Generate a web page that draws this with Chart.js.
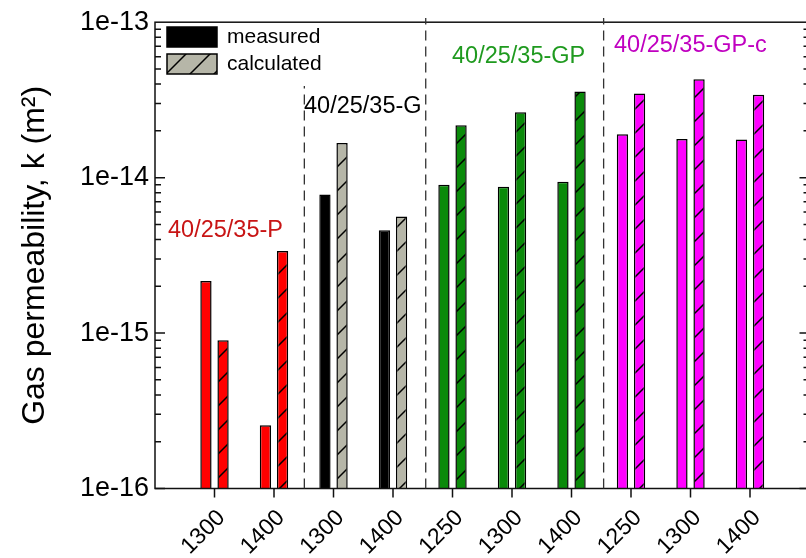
<!DOCTYPE html>
<html><head><meta charset="utf-8">
<script src="https://cdn.jsdelivr.net/npm/chart.js@4.4.1/dist/chart.umd.min.js"></script>
<style>
html,body{margin:0;padding:0;background:#fff;overflow:hidden;}
#wrap{position:relative;width:810px;height:558px;}
</style></head><body>
<div id="wrap"><canvas id="c"></canvas></div>
<script>
// ---- data ----
const categories = ['1300','1400','1300','1400','1250','1300','1400','1250','1300','1400'];
const groupIndex = [0,0,1,1,2,2,2,3,3,3];
const groupNames = ['40/25/35-P','40/25/35-G','40/25/35-GP','40/25/35-GP-c'];
const seriesNames = ['measured','calculated'];
const measured   = [2.16e-15, 2.55e-16, 7.78e-15, 4.58e-15, 9.0e-15, 8.75e-15, 9.4e-15, 1.9e-14, 1.77e-14, 1.76e-14];
const calculated = [9.0e-16, 3.37e-15, 1.67e-14, 5.63e-15, 2.17e-14, 2.63e-14, 3.58e-14, 3.48e-14, 4.3e-14, 3.42e-14];
const yTickValues = [1e-16, 1e-15, 1e-14, 1e-13];

// ---- styles ----
const groupBarColors  = ['#ff0000','#000000','#0a8a0a','#ff00ff'];
const groupCalcColors = ['#ff0000','#b6b6a8','#0a8a0a','#ff00ff'];
const groupTextColors = ['#c81414','#000000','#1f9a1f','#c000c0'];
const FONT = "'Liberation Sans', Arial, sans-serif";

const canvas = document.getElementById('c');
const mainCtx = canvas.getContext('2d');
function hatch(color){
  const s = 24;
  const c = document.createElement('canvas'); c.width = s; c.height = s;
  const g = c.getContext('2d');
  g.fillStyle = color; g.fillRect(0,0,s,s);
  g.strokeStyle = '#000'; g.lineWidth = 1.5;
  g.beginPath();
  g.moveTo(-3, s+3); g.lineTo(s+3, -3);
  g.moveTo(-3, 3); g.lineTo(3, -3);
  g.moveTo(s-3, s+3); g.lineTo(s+3, s-3);
  g.stroke();
  return mainCtx.createPattern(c, 'repeat');
}

const deco = {
  id: 'deco',
  afterDatasetsDraw(chart, args, opts){
    const {ctx, chartArea: a, scales: {x, y}} = chart;
    ctx.save();
    ctx.strokeStyle = '#111'; ctx.lineWidth = 1.5;
    // y ticks (inward, both sides)
    ctx.beginPath();
    for (let e = -16; e < -13; e++) {
      for (let m = 1; m < 10; m++) {
        const py = y.getPixelForValue(m * Math.pow(10, e));
        const len = m === 1 ? 10 : 6;
        ctx.moveTo(a.left, py); ctx.lineTo(a.left + len, py);
        ctx.moveTo(a.right, py); ctx.lineTo(a.right - len, py);
      }
    }
    // x ticks (outward)
    categories.forEach((c, i) => {
      const px = x.getPixelForValue(i);
      ctx.moveTo(px, a.bottom); ctx.lineTo(px, a.bottom + 9);
    });
    ctx.stroke();
    // frame
    ctx.strokeRect(a.left, a.top, a.right - a.left, a.bottom - a.top);
    // dividers
    ctx.setLineDash([10, 6]); ctx.lineWidth = 1.3; ctx.strokeStyle = '#333';
    opts.dividers.forEach(d => {
      const px = x.getPixelForValue(d.at);
      ctx.beginPath(); ctx.moveTo(px, a.bottom); ctx.lineTo(px, d.top); ctx.stroke();
    });
    ctx.setLineDash([]);
    // group labels
    ctx.textBaseline = 'middle'; ctx.textAlign = 'left';
    ctx.font = '23.5px ' + FONT;
    opts.groupLabels.forEach((p, gi) => {
      ctx.fillStyle = groupTextColors[gi];
      ctx.fillText(groupNames[gi], p.x, p.y);
    });
    // legend
    const fills = ['#000', hatch(groupCalcColors[1])];
    ctx.font = '21px ' + FONT;
    opts.legend.forEach((l, i) => {
      ctx.fillStyle = fills[i];
      ctx.fillRect(l.x, l.y, 50, 20);
      ctx.strokeStyle = '#000'; ctx.lineWidth = 1.5;
      ctx.strokeRect(l.x, l.y, 50, 20);
      ctx.fillStyle = '#000';
      ctx.fillText(seriesNames[i], l.x + 60, l.y + 10);
    });
    ctx.restore();
  }
};

new Chart(canvas, {
  type: 'bar',
  data: {
    datasets: [
      {
        label: seriesNames[0],
        data: measured.map((v, i) => ({x: i, y: v})),
        backgroundColor: groupIndex.map(g => groupBarColors[g]),
        borderColor: '#000', borderWidth: 1.5,
        barPercentage: 0.66, categoryPercentage: 0.575
      },
      {
        label: seriesNames[1],
        data: calculated.map((v, i) => ({x: i, y: v})),
        backgroundColor: groupIndex.map(g => hatch(groupCalcColors[g])),
        borderColor: '#000', borderWidth: 1.5,
        barPercentage: 0.66, categoryPercentage: 0.575
      }
    ]
  },
  options: {
    responsive: true, maintainAspectRatio: false, animation: false, devicePixelRatio: 1,
    layout: {padding: {top: 18, right: 0.5, left: 0, bottom: 0}},
    plugins: {
      legend: {display: false}, tooltip: {enabled: false},
      deco: {
        dividers: [{at: 1.51, top: 86}, {at: 3.55, top: 18}, {at: 6.54, top: 18}],
        groupLabels: [{x: 168, y: 231}, {x: 304, y: 107}, {x: 452, y: 57}, {x: 614, y: 46}],
        legend: [{x: 167, y: 27}, {x: 167, y: 54}]
      }
    },
    scales: {
      x: {
        type: 'linear', min: -1, max: 10, offset: false,
        afterBuildTicks: s => { s.ticks = categories.map((_, i) => ({value: i})); },
        ticks: {callback: v => categories[v], minRotation: 45, maxRotation: 45, autoSkip: false,
                font: {size: 23, family: FONT}, color: '#000', padding: 16, labelOffset: 7},
        grid: {display: false, drawTicks: false, offset: false}, border: {display: false},
        afterFit: s => { s.height = 69.5; }
      },
      y: {
        type: 'logarithmic', min: 1e-16, max: 1e-13,
        afterBuildTicks: s => { s.ticks = yTickValues.map(v => ({value: v})); },
        ticks: {callback: v => '1e' + Math.round(Math.log10(v)), font: {size: 27, family: FONT}, color: '#000', padding: 6},
        grid: {display: false, drawTicks: false}, border: {display: false},
        title: {display: true, text: 'Gas permeability, k (m²)', font: {size: 32, family: FONT}, color: '#000', padding: {top: 16, bottom: 0}},
        afterFit: s => { s.width = 155; }
      }
    }
  },
  plugins: [deco]
});
</script>
</body></html>
